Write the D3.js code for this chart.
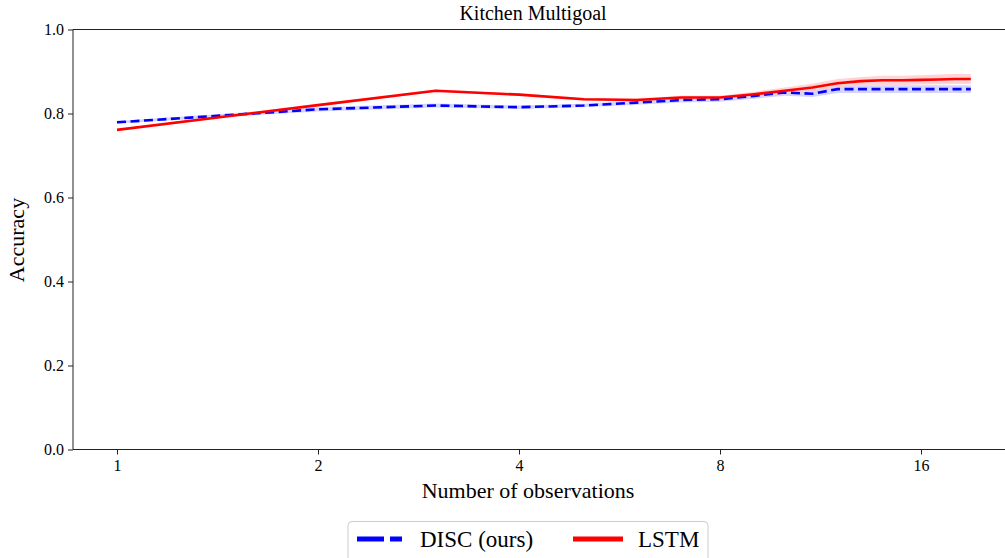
<!DOCTYPE html>
<html lang="en">
	<head>
		<meta charset="UTF-8" />
		<title>Kitchen Multigoal</title>
		<style>
			body { margin: 0; background: #fff; }
			text { font-family: 'Liberation Serif', 'DejaVu Serif', serif; fill: #000; }
		</style>
	</head>
	<body>
		<svg id="svg" width="1005" height="558"></svg>

		<script src="https://d3js.org/d3.v7.min.js"></script>
		<script>
			// number of observations, 1..19
			const obs = [1, 2, 3, 4, 5, 6, 7, 8, 9, 10, 11, 12, 13, 14, 15, 16, 17, 18, 19];
			const discMean = [0.779, 0.810, 0.819, 0.815, 0.819, 0.826, 0.832, 0.834, 0.842, 0.850, 0.847, 0.858, 0.858, 0.858, 0.858, 0.858, 0.858, 0.858, 0.858];
			const discStd = [0.003, 0.005, 0.005, 0.004, 0.004, 0.005, 0.006, 0.006, 0.007, 0.008, 0.008, 0.009, 0.009, 0.009, 0.009, 0.009, 0.009, 0.009, 0.009];
			const lstmMean = [0.761, 0.820, 0.854, 0.845, 0.834, 0.832, 0.838, 0.838, 0.846, 0.854, 0.862, 0.872, 0.877, 0.879, 0.879, 0.880, 0.881, 0.882, 0.882];
			const lstmStd = [0.002, 0.003, 0.003, 0.003, 0.003, 0.004, 0.004, 0.004, 0.006, 0.008, 0.009, 0.010, 0.010, 0.011, 0.011, 0.011, 0.012, 0.012, 0.012];
			const xTicks = [1, 2, 4, 8, 16];
			const yTicks = [0, 0.2, 0.4, 0.6, 0.8, 1.0];

			const plotLeft = 73, plotRight = 1013, plotTop = 29.5, plotBottom = 449.5;

			const xScale = d3.scaleLog().base(2).domain([1, 16]).range([117, 921]);
			const yScale = d3.scaleLinear().domain([0, 1]).range([plotBottom, plotTop]);

			const svg = d3.select('#svg');

			const series = [
				{ name: 'DISC (ours)', mean: discMean, std: discStd, color: '#0000ff', band: '#ccccff', dash: '9,4.5' },
				{ name: 'LSTM', mean: lstmMean, std: lstmStd, color: '#ff0000', band: '#ffcccc', dash: null },
			];

			// std bands
			series.forEach((s) => {
				const area = d3
					.area()
					.x((d, i) => xScale(obs[i]))
					.y0((d, i) => yScale(s.mean[i] - s.std[i]))
					.y1((d, i) => yScale(s.mean[i] + s.std[i]));
				svg.append('path').attr('d', area(obs)).attr('fill', s.band).attr('opacity', 0.85);
			});

			// mean lines
			series.forEach((s) => {
				const line = d3
					.line()
					.x((d, i) => xScale(obs[i]))
					.y((d, i) => yScale(s.mean[i]));
				svg
					.append('path')
					.attr('d', line(obs))
					.attr('fill', 'none')
					.attr('stroke', s.color)
					.attr('stroke-width', 2.6)
					.attr('stroke-dasharray', s.dash);
			});

			// spines
			svg.append('line').attr('x1', plotLeft).attr('x2', plotLeft).attr('y1', plotTop).attr('y2', plotBottom).attr('stroke', '#222');
			svg.append('line').attr('x1', plotLeft).attr('x2', plotRight).attr('y1', plotTop).attr('y2', plotTop).attr('stroke', '#222');
			svg.append('line').attr('x1', plotLeft).attr('x2', plotRight).attr('y1', plotBottom).attr('y2', plotBottom).attr('stroke', '#222');

			// axes
			const xAxis = svg
				.append('g')
				.attr('transform', `translate(0,${plotBottom})`)
				.call(d3.axisBottom(xScale).tickValues(xTicks).tickFormat(d3.format('d')).tickSize(5).tickPadding(5));
			xAxis.attr('font-family', 'Liberation Serif').attr('font-size', 16);
			xAxis.select('.domain').remove();
			xAxis.selectAll('line').attr('stroke', '#222');

			const yAxis = svg
				.append('g')
				.attr('transform', `translate(${plotLeft},0)`)
				.call(d3.axisLeft(yScale).tickValues(yTicks).tickFormat(d3.format('.1f')).tickSize(5).tickPadding(4));
			yAxis.attr('font-family', 'Liberation Serif').attr('font-size', 16);
			yAxis.select('.domain').remove();
			yAxis.selectAll('line').attr('stroke', '#222');

			// titles
			svg.append('text').attr('x', 533).attr('y', 20).attr('text-anchor', 'middle').style('font-size', '20px').text('Kitchen Multigoal');
			svg.append('text').attr('x', 528).attr('y', 498).attr('text-anchor', 'middle').style('font-size', '22px').text('Number of observations');
			svg
				.append('text')
				.attr('transform', 'translate(24,240) rotate(-90)')
				.attr('text-anchor', 'middle')
				.style('font-size', '22px')
				.text('Accuracy');

			// legend
			const lg = svg.append('g');
			lg.append('rect').attr('x', 348).attr('y', 521.5).attr('width', 360).attr('height', 50).attr('rx', 4).attr('fill', '#fff').attr('stroke', '#ccc');
			const legendX = [357, 573];
			const textX = [420, 638];
			series.forEach((s, i) => {
				lg.append('line')
					.attr('x1', legendX[i])
					.attr('x2', legendX[i] + (i === 0 ? 45 : 50))
					.attr('y1', 539)
					.attr('y2', 539)
					.attr('stroke', s.color)
					.attr('stroke-width', 5)
					.attr('stroke-dasharray', s.dash ? '27,6' : null);
				lg.append('text').attr('x', textX[i]).attr('y', 547).style('font-size', '23px').text(s.name);
			});
		</script>
	</body>
</html>
